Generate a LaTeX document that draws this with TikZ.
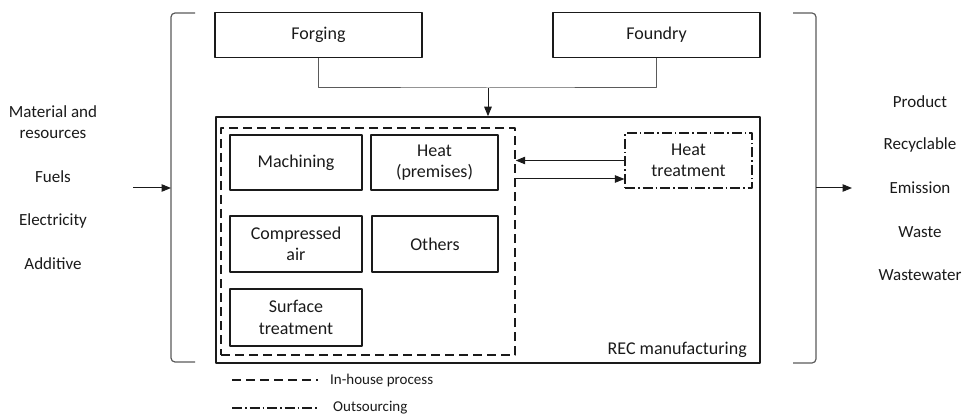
\documentclass[tikz,border=0pt]{standalone}
\usepackage{fontspec}
\setmainfont{Carlito}
\usetikzlibrary{arrows.meta}
\definecolor{inkgray}{HTML}{1A1A1A}
\definecolor{wiregray}{HTML}{5A5A5A}
\tikzset{
  procbox/.style={draw=inkgray, line width=1.2pt, align=center, inner sep=0pt,
    font=\fontsize{18}{21.5}\selectfont, text=inkgray},
  wire/.style={draw=wiregray, line width=1pt},
  flow/.style={draw=inkgray, line width=1pt, -{Triangle[length=9.5pt,width=7.5pt]}},
  brace/.style={draw=wiregray, line width=1.2pt, rounded corners=4pt},
  sidetext/.style={align=center, text=inkgray, font=\fontsize{17}{21}\selectfont},
  legtext/.style={anchor=west, text=inkgray, inner sep=0pt, font=\fontsize{15}{17}\selectfont},
  inhousedash/.style={dash pattern=on 9pt off 5pt},
  outdash/.style={dash pattern=on 10pt off 3pt on 1.5pt off 3pt}
}
\begin{document}
\begin{tikzpicture}[x=1pt, y=-1pt, line join=round]
    \useasboundingbox (0,0) rectangle (967,417);

    % Upstream suppliers
    \node[procbox, minimum width=207pt, minimum height=45pt] (forging) at (318.5,35) {Forging};
    \node[procbox, minimum width=207pt, minimum height=45pt] (foundry) at (656.5,35) {Foundry};

    % Main plant and in-house area
    \node[draw=inkgray, line width=1.5pt, minimum width=544pt, minimum height=246pt, inner sep=0pt] (rec) at (488,240) {};
    \node[draw=inkgray, line width=1.4pt, inhousedash, minimum width=294pt, minimum height=227pt, inner sep=0pt] (inhouse) at (368,241.5) {};
    \node[text=inkgray, font=\fontsize{18}{21.5}\selectfont, anchor=east, inner sep=0pt] (reclabel) at (747,350) {REC manufacturing};

    % In-house processes
    \node[procbox, minimum width=132pt, minimum height=55pt] (machining) at (296,162.5) {Machining};
    \node[procbox, minimum width=127pt, minimum height=55pt] (heatprem) at (434.5,162.5) {Heat\\(premises)};
    \node[procbox, minimum width=132pt, minimum height=56pt] (compair) at (296,244) {Compressed\\air};
    \node[procbox, minimum width=126pt, minimum height=56pt] (others) at (435,244) {Others};
    \node[procbox, minimum width=132pt, minimum height=57pt] (surface) at (296,317.5) {Surface\\treatment};

    % Outsourced process
    \node[procbox, outdash, minimum width=127pt, minimum height=55pt] (heattreat) at (688.5,160.5) {Heat\\treatment};

    % Supplier connector
    \coordinate (join) at (488,88);
    \draw[wire] (forging.south) |- (join) -| (foundry.south);
    \draw[flow] (join) -- (rec.north);

    % Outsourcing exchange
    \draw[flow] (heattreat.west) -- (inhouse.east |- heattreat.west);
    \draw[flow] ([yshift=-18.5pt]inhouse.east |- heattreat.west) -- ([yshift=-18.5pt]heattreat.west);

    % Boundary brackets
    \draw[brace] (195,13) -- (171,13) -- (171,362) -- (195,362);
    \draw[brace] (793,13) -- (816,13) -- (816,363) -- (793,363);
    \coordinate (lbr) at (171,188);
    \coordinate (rbr) at (816,188);
    \coordinate (inflow) at (133,188);
    \coordinate (outflow) at (852,188);
    \draw[flow] (inflow) -- (lbr);
    \draw[flow] (rbr) -- (outflow);

    % Inputs
    \node[sidetext] (material) at (53,122.5) {Material and\\resources};
    \node[sidetext] (fuels) at (53,177) {Fuels};
    \node[sidetext] (electricity) at (53,221) {Electricity};
    \node[sidetext] (additive) at (53,264) {Additive};

    % Outputs
    \node[sidetext] (product) at (920,102) {Product};
    \node[sidetext] (recyclable) at (920,145) {Recyclable};
    \node[sidetext] (emission) at (920,188) {Emission};
    \node[sidetext] (waste) at (920,232) {Waste};
    \node[sidetext] (wastewater) at (920,275) {Wastewater};

    % Legend
    \coordinate (lega) at (232,380);
    \coordinate (legb) at (318,380);
    \coordinate (legc) at (232,408);
    \coordinate (legd) at (318,408);
    \draw[inkgray, line width=1.2pt, inhousedash] (lega) -- (legb);
    \draw[inkgray, line width=1.2pt, outdash] (legc) -- (legd);
    \node[legtext] (leginhouse) at (330,380) {In-house process};
    \node[legtext] (legout) at (333,408) {Outsourcing};
\end{tikzpicture}
\end{document}
